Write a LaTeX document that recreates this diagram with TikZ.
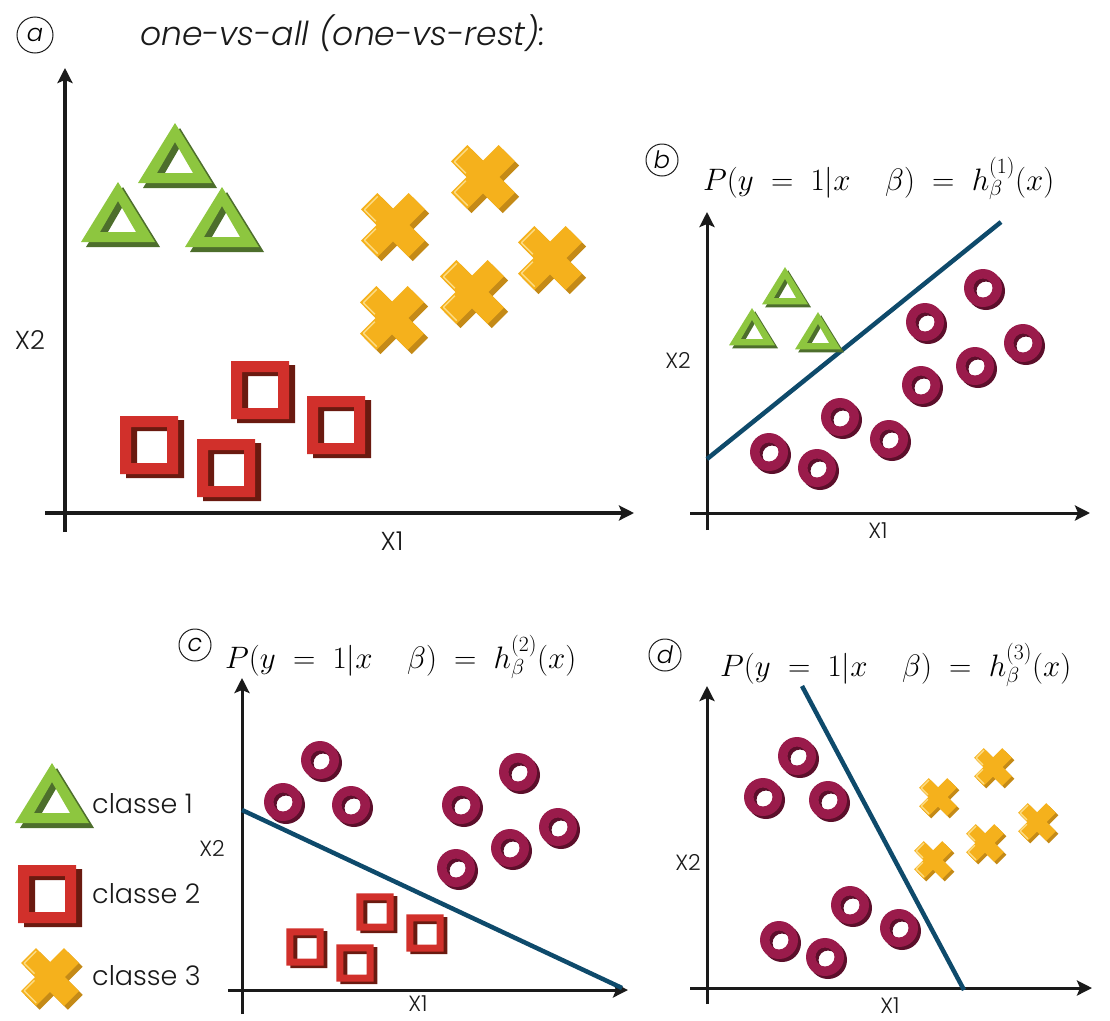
\RequirePackage{fix-cm}
\documentclass[tikz,border=0pt]{standalone}
\usepackage{fontspec}
\setmainfont{Poppins}[UprightFont=* Light, ItalicFont=* Light Italic, BoldFont=* Medium]
\usetikzlibrary{arrows.meta}
\definecolor{trig}{HTML}{8DC63F}
\definecolor{trigd}{HTML}{4D6E2C}
\definecolor{sqr}{HTML}{D1302B}
\definecolor{sqrd}{HTML}{6A1A10}
\definecolor{crs}{HTML}{F5B11C}
\definecolor{crsd}{HTML}{C48A17}
\definecolor{crsl}{HTML}{FCDC84}
\definecolor{rng}{HTML}{9A1B4B}
\definecolor{rngd}{HTML}{5C0F2B}
\definecolor{sepc}{HTML}{0E4A6B}
\definecolor{axc}{HTML}{1A1A1A}
\tikzset{
  tri/.pic={
    \fill[trigd,even odd rule] (5,-32) -- (-32,28) -- (42,28) -- cycle (5,-13) -- (-13,18) -- (23,18) -- cycle;
    \fill[trig,even odd rule] (0,-37) -- (-37,23) -- (37,23) -- cycle (0,-18) -- (-18,13) -- (18,13) -- cycle;
  },
  sq/.pic={
    \fill[sqrd,even odd rule] (-23,-25) rectangle (35,33) (-12,-14) rectangle (24,22);
    \fill[sqr,even odd rule] (-29,-29) rectangle (29,29) (-18,-18) rectangle (18,18);
  },
  rg/.pic={
    \fill[rngd,even odd rule] (3,3) circle[radius=19] (3,3) circle[radius=9.5];
    \fill[rng,even odd rule] (0,0) circle[radius=19] (0,0) circle[radius=9.5];
  },
  cr/.pic={
    \fill[crsd,shift={(4,4)},rotate=45] (11,11) -- (11,32) -- (-11,32) -- (-11,11) -- (-32,11) -- (-32,-11) -- (-11,-11) -- (-11,-32) -- (11,-32) -- (11,-11) -- (32,-11) -- (32,11) -- cycle;
    \fill[crs,rotate=45] (11,11) -- (11,32) -- (-11,32) -- (-11,11) -- (-32,11) -- (-32,-11) -- (-11,-11) -- (-11,-32) -- (11,-32) -- (11,-11) -- (32,-11) -- (32,11) -- cycle;
    \draw[crsl,line width=1.4,rotate=45] (-29.5,-9) -- (-29.5,9) (-9,-29.5) -- (9,-29.5) (-29.5,-9) -- (-14,-9) (-9,-29.5) -- (-9,-14);
  },
  axis/.style={line width=3.5, axc, -{Stealth[length=15,width=15,inset=3]}},
  sepline/.style={line width=4.5, sepc},
  lab/.style={font=\fontsize{26}{30}\selectfont, text=axc, inner sep=0},
  labs/.style={font=\fontsize{22}{26}\selectfont, text=axc, inner sep=0},
  circlet/.style={circle, draw=axc, line width=1, inner sep=0, minimum size=32, font=\itshape\fontsize{24}{26}\selectfont},
  formula/.style={anchor=base west, inner sep=0, font=\fontsize{31}{36}\selectfont},
  legtext/.style={anchor=west, inner sep=0, font=\fontsize{27}{32}\selectfont, text=axc},
}
\newcommand{\pform}[1]{$P(y\;=\;1|x\;\;\;\;\beta)\;=\;h_\beta^{(#1)}(x)$}
\begin{document}
\begin{tikzpicture}[x=1pt,y=-1pt]
\useasboundingbox (0,0) rectangle (1110,1020);
% ---------- panel a ----------
\node[circlet, minimum size=36] (la) at (35,35) {a};
\node[anchor=west, inner sep=0, font=\itshape\fontsize{33}{38}\selectfont, text=axc] (title) at (140,33) {one-vs-all (one-vs-rest):};
\coordinate (ay0) at (65,532); \coordinate (ay1) at (65,68);
\coordinate (ax0) at (45,513); \coordinate (ax1) at (634,513);
\draw[axis] (ay0) -- (ay1);
\draw[axis] (ax0) -- (ax1);
\node[lab] (ax2) at (30,340) {X2};
\node[lab] (ax1l) at (392,541) {X1};
\pic at (175,160) {tri};
\pic at (118,219) {tri};
\pic at (222,224) {tri};
\pic[scale=1.05] at (483,177) {cr};
\pic[scale=1.05] at (393,225) {cr};
\pic[scale=1.05] at (550,258) {cr};
\pic[scale=1.05] at (472,292) {cr};
\pic[scale=1.05] at (392,318) {cr};
\pic at (149,445) {sq};
\pic at (226,468) {sq};
\pic at (260,390) {sq};
\pic at (336,425) {sq};
% ---------- panel b ----------
\node[circlet] (lb) at (662,160) {b};
\node[formula] (fb) at (703,190) {\pform{1}};
\coordinate (by0) at (707,530); \coordinate (by1) at (707,212);
\coordinate (bx0) at (690,513); \coordinate (bx1) at (1090,513);
\draw[axis,line width=3] (by0) -- (by1);
\draw[axis,line width=3] (bx0) -- (bx1);
\node[labs] (bx2) at (678,360) {X2};
\node[labs] (bx1l) at (878,531) {X1};
\coordinate (bs0) at (707,459); \coordinate (bs1) at (1001,222);
\draw[sepline] (bs0) -- (bs1);
\pic[scale=0.62] at (785,290) {tri};
\pic[scale=0.62] at (752,331) {tri};
\pic[scale=0.62] at (818,335) {tri};
\foreach \p in {(769,452),(817,468),(840,417),(889,439),(921,385),(925,322),(975,366),(983,288),(1023,343)}
  \pic at \p {rg};
% ---------- panel c ----------
\node[circlet] (lc) at (195,645) {c};
\node[formula] (fc) at (225,668) {\pform{2}};
\coordinate (cy0) at (242,1014); \coordinate (cy1) at (242,678);
\coordinate (cx0) at (228,990); \coordinate (cx1) at (628,990);
\draw[axis,line width=3] (cy0) -- (cy1);
\draw[axis,line width=3] (cx0) -- (cx1);
\node[labs] (cx2) at (212,848) {X2};
\node[labs] (cx1l) at (418,1004) {X1};
\coordinate (cs0) at (242,810); \coordinate (cs1) at (622,988);
\draw[sepline] (cs0) -- (cs1);
\foreach \p in {(283,802),(320,760),(351,805),(461,805),(518,772),(558,827),(510,848),(456,868)}
  \pic at \p {rg};
\pic[scale=0.64] at (305,947) {sq};
\pic[scale=0.64] at (355,963) {sq};
\pic[scale=0.64] at (375,912) {sq};
\pic[scale=0.64] at (425,933) {sq};
% ---------- legend ----------
\pic at (52,800) {tri};
\node[legtext] (l1) at (92,804) {classe 1};
\pic at (47,894) {sq};
\node[legtext] (l2) at (92,894) {classe 2};
\pic[scale=0.95] at (50,977) {cr};
\node[legtext] (l3) at (92,976) {classe 3};
% ---------- panel d ----------
\node[circlet] (ld) at (665,655) {d};
\node[formula] (fd) at (720,676) {\pform{3}};
\coordinate (dy0) at (707,1004); \coordinate (dy1) at (707,686);
\coordinate (dx0) at (690,988); \coordinate (dx1) at (1092,988);
\draw[axis,line width=3] (dy0) -- (dy1);
\draw[axis,line width=3] (dx0) -- (dx1);
\node[labs] (dx2) at (688,862) {X2};
\node[labs] (dx1l) at (890,1006) {X1};
\coordinate (ds0) at (802,686); \coordinate (ds1) at (964,990);
\draw[sepline] (ds0) -- (ds1);
\foreach \p in {(763,797),(797,756),(828,800),(779,940),(825,957),(850,905),(899,928)}
  \pic at \p {rg};
\foreach \p in {(938,797),(993,767),(933,860),(985,843),(1037,822)}
  \pic[scale=0.62] at \p {cr};
\end{tikzpicture}
\end{document}
